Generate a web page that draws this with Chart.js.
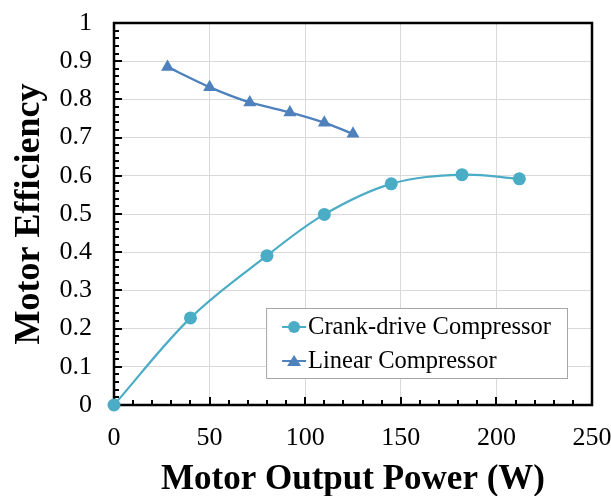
<!DOCTYPE html>
<html>
<head>
<meta charset="utf-8">
<script src="https://cdn.jsdelivr.net/npm/chart.js@4"></script>
<style>
  html, body { margin: 0; padding: 0; background: #fff; }
</style>
</head>
<body>
<canvas id="myChart" width="611" height="496"></canvas>
<script>
// data
const crankPower = [0, 40, 80, 110, 145, 182, 212];
const crankEff = [0, 0.228, 0.391, 0.499, 0.579, 0.603, 0.592];
const linearPower = [28, 50, 71, 92, 110, 125];
const linearEff = [0.885, 0.832, 0.792, 0.766, 0.739, 0.710];
const seriesNames = ['Crank-drive Compressor', 'Linear Compressor'];
const xTickLabels = ['0', '50', '100', '150', '200', '250'];
const yTickLabels = ['0', '0.1', '0.2', '0.3', '0.4', '0.5', '0.6', '0.7', '0.8', '0.9', '1'];

const crankColor = '#4bacc6';
const linearColor = '#4f81bd';
const serif = "'Liberation Serif', 'Times New Roman', serif";

const ctx = document.getElementById('myChart').getContext('2d');

function toPoints(xs, ys) {
    return xs.map((x, i) => ({ x: x, y: ys[i] }));
}

// frame + inward tick marks (major and minor), like the excel plot
const framePlugin = {
    id: 'frame',
    beforeDatasetsDraw(chart) {
        const { ctx, chartArea: a, scales } = chart;
        ctx.save();
        ctx.strokeStyle = '#000';
        ctx.lineWidth = 2;
        // minor ticks every 10 on x, every 0.02 on y
        for (let v = 0; v <= 250; v += 10) {
            const px = Math.round(scales.x.getPixelForValue(v));
            const len = v % 50 === 0 ? 8 : 5;
            ctx.beginPath();
            ctx.moveTo(px, a.bottom);
            ctx.lineTo(px, a.bottom - len);
            ctx.stroke();
        }
        for (let i = 0; i <= 50; i++) {
            const py = Math.round(scales.y.getPixelForValue(i * 0.02));
            const len = i % 5 === 0 ? 8 : 5;
            ctx.beginPath();
            ctx.moveTo(a.left, py);
            ctx.lineTo(a.left + len, py);
            ctx.stroke();
        }
        ctx.lineWidth = 2.5;
        ctx.strokeRect(a.left, a.top, a.right - a.left, a.bottom - a.top);
        ctx.restore();
    }
};

// legend box drawn inside the plot area, bottom right
const innerLegend = {
    id: 'innerLegend',
    afterDatasetsDraw(chart) {
        const { ctx, chartArea: a } = chart;
        const right = a.right - 25;
        const bottom = a.bottom - 27;
        const rowH = 34;
        ctx.save();
        ctx.font = '24.5px ' + serif;
        let textW = 0;
        chart.data.datasets.forEach(ds => {
            textW = Math.max(textW, ctx.measureText(ds.label).width);
        });
        const w = 16 + 24 + 4 + textW + 14;
        const h = rowH * 2 + 2;
        const left = right - w;
        const top = bottom - h;
        ctx.fillStyle = '#fff';
        ctx.fillRect(left, top, w, h);
        ctx.strokeStyle = '#a6a6a6';
        ctx.lineWidth = 1;
        ctx.strokeRect(left + 0.5, top + 0.5, w, h);

        chart.data.datasets.forEach((ds, i) => {
            const cy = top + 19 + i * rowH;
            const x0 = left + 16;
            ctx.strokeStyle = ds.borderColor;
            ctx.lineWidth = 2;
            ctx.beginPath();
            ctx.moveTo(x0, cy);
            ctx.lineTo(x0 + 24, cy);
            ctx.stroke();
            ctx.fillStyle = ds.backgroundColor;
            const mx = x0 + 12;
            if (ds.pointStyle === 'triangle') {
                ctx.beginPath();
                ctx.moveTo(mx, cy - 6);
                ctx.lineTo(mx + 7, cy + 5);
                ctx.lineTo(mx - 7, cy + 5);
                ctx.closePath();
                ctx.fill();
            } else {
                ctx.beginPath();
                ctx.arc(mx, cy, 6, 0, Math.PI * 2);
                ctx.fill();
            }
            ctx.fillStyle = '#000';
            ctx.textBaseline = 'middle';
            ctx.textAlign = 'left';
            ctx.fillText(ds.label, x0 + 26, cy + 1);
        });
        ctx.restore();
    }
};

const myChart = new Chart(ctx, {
    type: 'line',
    data: {
        datasets: [
            {
                label: seriesNames[0],
                data: toPoints(crankPower, crankEff),
                borderColor: crankColor,
                backgroundColor: crankColor,
                borderWidth: 2.2,
                pointStyle: 'circle',
                pointRadius: 6.5,
                pointBorderWidth: 0,
                tension: 0.35,
                clip: false
            },
            {
                label: seriesNames[1],
                data: toPoints(linearPower, linearEff),
                borderColor: linearColor,
                backgroundColor: linearColor,
                borderWidth: 2.4,
                pointStyle: 'triangle',
                pointRadius: 7.5,
                pointBorderWidth: 0,
                tension: 0.2,
                clip: false
            }
        ]
    },
    options: {
        responsive: false,
        animation: false,
        layout: {
            padding: { top: 23, right: 0, left: 0, bottom: 0 }
        },
        plugins: {
            legend: { display: false },
            tooltip: { enabled: false }
        },
        scales: {
            x: {
                type: 'linear',
                min: 0,
                max: 250,
                afterFit: (scale) => {
                    scale.height = 91;
                    scale.paddingLeft = 0;
                    scale.paddingRight = 19;
                },
                afterBuildTicks: (scale) => {
                    scale.ticks = xTickLabels.map(t => ({ value: Number(t) }));
                },
                grid: { color: '#d9d9d9', lineWidth: 1, drawTicks: false },
                border: { display: false },
                ticks: {
                    padding: 18,
                    color: '#000',
                    font: { family: serif, size: 26 },
                    maxRotation: 0,
                    callback: (value, index) => xTickLabels[index]
                },
                title: {
                    display: true,
                    text: 'Motor Output Power (W)',
                    color: '#000',
                    font: { family: serif, size: 35, weight: 'bold' },
                    padding: { top: 0, bottom: -5 }
                }
            },
            y: {
                type: 'linear',
                min: 0,
                max: 1,
                afterFit: (scale) => {
                    scale.width = 114;
                    scale.paddingTop = 0;
                    scale.paddingBottom = 0;
                },
                afterBuildTicks: (scale) => {
                    scale.ticks = yTickLabels.map(t => ({ value: Number(t) }));
                },
                grid: { color: '#d9d9d9', lineWidth: 1, drawTicks: false },
                border: { display: false },
                ticks: {
                    padding: 22,
                    color: '#000',
                    font: { family: serif, size: 26 },
                    callback: (value, index) => yTickLabels[index]
                },
                title: {
                    display: true,
                    text: 'Motor Efficiency',
                    color: '#000',
                    font: { family: serif, size: 36, weight: 'bold' },
                    padding: { top: 8, bottom: 0 }
                }
            }
        }
    },
    plugins: [framePlugin, innerLegend]
});
</script>
</body>
</html>
